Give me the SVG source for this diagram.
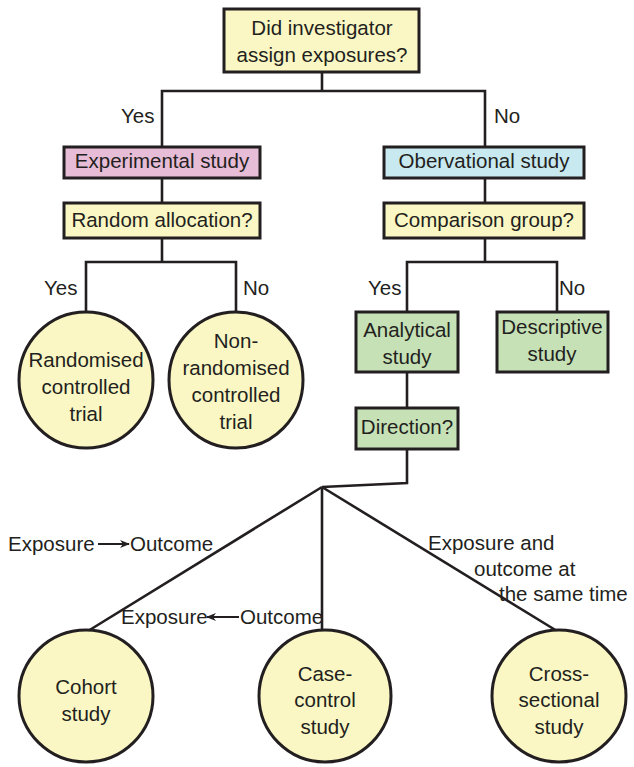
<svg xmlns="http://www.w3.org/2000/svg" width="634" height="767" viewBox="0 0 634 767">
<style>
text{font-family:"Liberation Sans",Arial,sans-serif;font-size:20.5px;fill:#231f20;text-anchor:middle}
.l{text-anchor:start}
.box{stroke:#231f20;stroke-width:3}
.yel{fill:#faf7c4}
.pink{fill:#e6bcd6}
.blue{fill:#c9e9f0}
.green{fill:#c6e1b6}
.con{fill:none;stroke:#231f20;stroke-width:2.6}
</style>
<defs>
<marker id="ah" markerWidth="10" markerHeight="8" refX="9" refY="4" orient="auto" markerUnits="userSpaceOnUse">
<path d="M0,0 L10,4 L0,8 L3,4 Z" fill="#231f20"/>
</marker>
</defs>
<rect width="634" height="767" fill="#fff"/>
<g id="connectors">
<polyline class="con" points="322,72 322,91"/>
<polyline class="con" points="162,147 162,91 485,91 485,147"/>
<line class="con" x1="162" y1="178" x2="162" y2="203"/>
<line class="con" x1="485" y1="178" x2="485" y2="203"/>
<polyline class="con" points="162,238 162,262"/>
<polyline class="con" points="86,312 86,262 236,262 236,312"/>
<polyline class="con" points="485,238 485,262"/>
<polyline class="con" points="407,312 407,262 557,262 557,312"/>
<line class="con" x1="407" y1="372" x2="407" y2="408"/>
<polyline class="con" points="407,449 407,483 322,487"/>
<line class="con" x1="322" y1="487" x2="88" y2="631"/>
<line class="con" x1="322" y1="487" x2="322" y2="632"/>
<line class="con" x1="322" y1="487" x2="557" y2="631"/>
</g>
<g id="edge-labels">
<text class="l" x="121" y="123">Yes</text>
<text class="l" x="494" y="123">No</text>
<text class="l" x="44" y="295">Yes</text>
<text class="l" x="243" y="295">No</text>
<text class="l" x="368" y="295">Yes</text>
<text class="l" x="559" y="295">No</text>
<g id="label-forward">
<text class="l" x="8" y="551">Exposure</text>
<line x1="98" y1="544" x2="129" y2="544" stroke="#231f20" stroke-width="2" marker-end="url(#ah)"/>
<text class="l" x="130" y="551">Outcome</text>
</g>
<g id="label-backward">
<text class="l" x="121" y="624">Exposure</text>
<line x1="239" y1="617" x2="207" y2="617" stroke="#231f20" stroke-width="2" marker-end="url(#ah)"/>
<text class="l" x="240" y="624">Outcome</text>
</g>
<g id="label-same">
<text class="l" x="428" y="550">Exposure and</text>
<text class="l" x="474" y="576">outcome at</text>
<text class="l" x="499" y="601">the same time</text>
</g>
</g>
<g id="n-assign">
<rect class="box yel" x="224" y="9" width="195" height="63"/>
<text x="322" y="35">Did investigator</text>
<text x="322" y="62">assign exposures?</text>
</g>
<g id="n-experimental">
<rect class="box pink" x="64" y="147" width="196" height="31"/>
<text x="162" y="168">Experimental study</text>
</g>
<g id="n-observational">
<rect class="box blue" x="384" y="147" width="200" height="31"/>
<text x="484" y="168">Obervational study</text>
</g>
<g id="n-random">
<rect class="box yel" x="64" y="203" width="196" height="35"/>
<text x="162" y="227">Random allocation?</text>
</g>
<g id="n-comparison">
<rect class="box yel" x="384" y="203" width="200" height="35"/>
<text x="484" y="227">Comparison group?</text>
</g>
<g id="n-rct">
<ellipse class="box yel" cx="86" cy="380" rx="67" ry="68"/>
<text x="86" y="367">Randomised</text>
<text x="86" y="394">controlled</text>
<text x="86" y="421">trial</text>
</g>
<g id="n-nrct">
<ellipse class="box yel" cx="236" cy="380" rx="67" ry="68"/>
<text x="236" y="348">Non-</text>
<text x="236" y="375">randomised</text>
<text x="236" y="402">controlled</text>
<text x="236" y="429">trial</text>
</g>
<g id="n-analytical">
<rect class="box green" x="356" y="312" width="102" height="60"/>
<text x="407" y="337">Analytical</text>
<text x="407" y="364">study</text>
</g>
<g id="n-descriptive">
<rect class="box green" x="497" y="312" width="111" height="60"/>
<text x="552" y="334">Descriptive</text>
<text x="552" y="361">study</text>
</g>
<g id="n-direction">
<rect class="box green" x="356" y="408" width="102" height="41"/>
<text x="407" y="434">Direction?</text>
</g>
<g id="n-cohort">
<ellipse class="box yel" cx="86" cy="696" rx="67" ry="66"/>
<text x="86" y="694">Cohort</text>
<text x="86" y="721">study</text>
</g>
<g id="n-casecontrol">
<ellipse class="box yel" cx="325" cy="696" rx="66" ry="66"/>
<text x="325" y="681">Case-</text>
<text x="325" y="707">control</text>
<text x="325" y="734">study</text>
</g>
<g id="n-crosssectional">
<ellipse class="box yel" cx="559" cy="696" rx="67" ry="66"/>
<text x="559" y="681">Cross-</text>
<text x="559" y="707">sectional</text>
<text x="559" y="734">study</text>
</g>
</svg>
